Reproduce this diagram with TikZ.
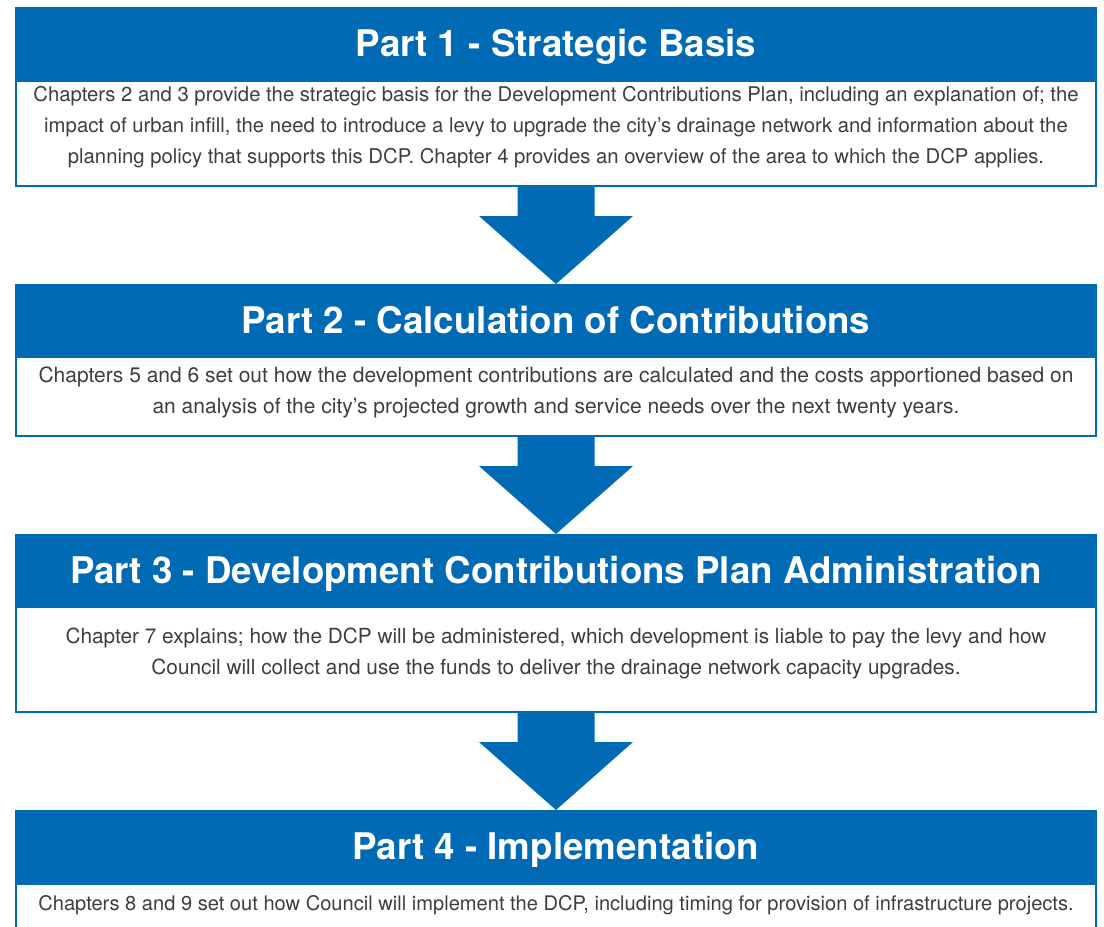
\documentclass[tikz,border=0pt]{standalone}
\usepackage{fontspec}
\setmainfont{TeX Gyre Heros}
\usetikzlibrary{calc}
\definecolor{dcpblue}{RGB}{0,106,180}
\definecolor{bodygray}{RGB}{62,62,62}
\newcommand\dcparrow[2]{%
  \fill[dcpblue] ($(#1.south)+(-38.5,0)$) -- ($(#1.south)+(-38.5,29)$) -- ($(#1.south)+(-77,29)$)
    -- (#2.north) -- ($(#1.south)+(77,29)$) -- ($(#1.south)+(38.5,29)$) -- ($(#1.south)+(38.5,0)$) -- cycle;}
\begin{document}
\begin{tikzpicture}[x=1pt,y=-1pt,
  frame/.style={draw=dcpblue, line width=2pt, fill=white, minimum width=1080pt, inner sep=0pt},
  header/.style={fill=dcpblue, minimum width=1082pt, inner sep=0pt, anchor=north},
  title/.style={text=white, font=\fontsize{36.7}{40}\selectfont\bfseries, anchor=base, inner sep=0pt},
  body/.style={text=bodygray, font=\fontsize{#1}{31}\selectfont, align=center, anchor=north, inner sep=0pt},
  body/.default=20.3]
\useasboundingbox (0,0) rectangle (1104,927);
\fill[white] (0,0) rectangle (1104,927);
% frames
\node[frame, minimum height=178pt] (b1) at (556,97) {};
\node[frame, minimum height=151pt] (b2) at (556,360.5) {};
\node[frame, minimum height=177pt] (b3) at (556,623.5) {};
\node[frame, minimum height=148pt] (b4) at (556,885) {};
% arrows
\dcparrow{b1}{b2}
\dcparrow{b2}{b3}
\dcparrow{b3}{b4}
% headers
\node[header, minimum height=75pt] (h1) at (556,7) {};
\node[header, minimum height=74pt] (h2) at (556,284) {};
\node[header, minimum height=74pt] (h3) at (556,534) {};
\node[header, minimum height=75pt] (h4) at (556,810) {};
\node[title] (p1) at (556,56) {Part 1 - Strategic Basis};
\node[title] (p2) at (556,333) {Part 2 - Calculation of Contributions};
\node[title] (p3) at (556,583) {Part 3 - Development Contributions Plan Administration};
\node[title] (p4) at (556,859) {Part 4 - Implementation};
% body texts
\node[body] (t1) at (556,86.5) {Chapters 2 and 3 provide the strategic basis for the Development Contributions Plan, including an explanation of; the\\
impact of urban infill, the need to introduce a levy to upgrade the city’s drainage network and information about the\\
planning policy that supports this DCP. Chapter 4 provides an overview of the area to which the DCP applies.};
\node[body=21] (t2) at (556,366.5) {Chapters 5 and 6 set out how the development contributions are calculated and the costs apportioned based on\\
an analysis of the city’s projected growth and service needs over the next twenty years.};
\node[body=20.8] (t3) at (556,627.5) {Chapter 7 explains; how the DCP will be administered, which development is liable to pay the levy and how\\
Council will collect and use the funds to deliver the drainage network capacity upgrades.};
\node[body=20.1] (t4) at (556,895.5) {Chapters 8 and 9 set out how Council will implement the DCP, including timing for provision of infrastructure projects.};
\end{tikzpicture}
\end{document}
